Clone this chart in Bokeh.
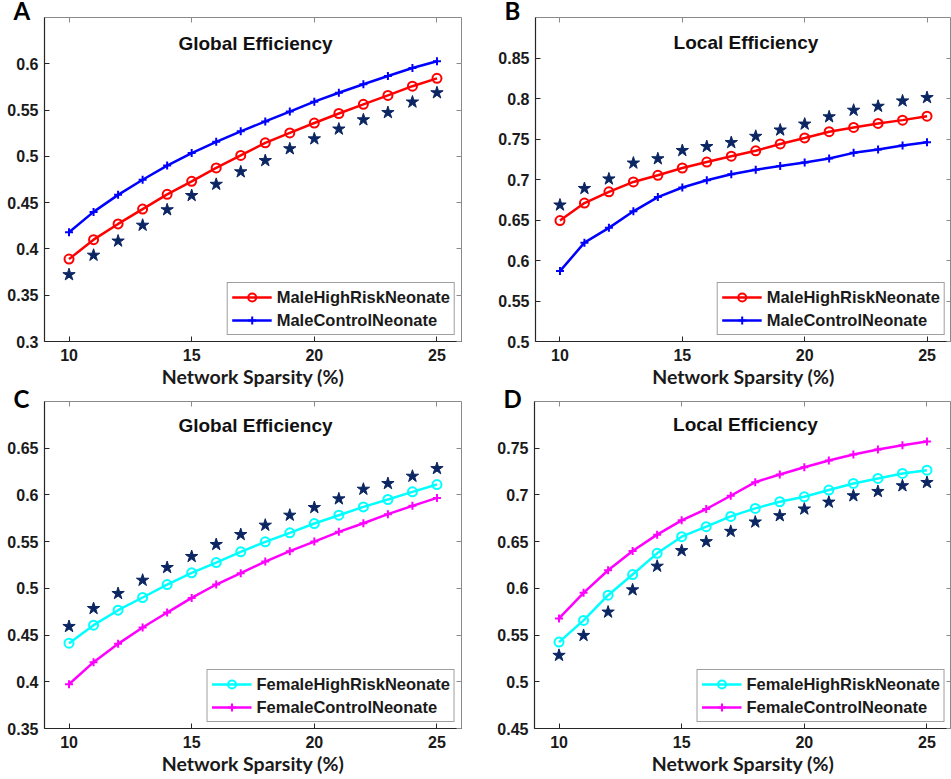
from bokeh.plotting import figure
from bokeh.layouts import column, row
from bokeh.models import Range1d, FixedTicker, LinearAxis, Label, Legend, Title
from bokeh.embed import file_html
from bokeh.resources import INLINE

sparsity = list(range(10, 26))
x_ticks = [10, 15, 20, 25]

# Panel A: Global Efficiency (male)
a_high = [0.389, 0.410, 0.427, 0.443, 0.459, 0.473, 0.4875, 0.501, 0.5146, 0.5253,
          0.536, 0.5463, 0.5562, 0.5658, 0.5758, 0.5843]
a_ctrl = [0.418, 0.440, 0.4584, 0.4747, 0.490, 0.5036, 0.5157, 0.527, 0.5377, 0.5484,
          0.5591, 0.5687, 0.5779, 0.5868, 0.5954, 0.6028]
a_star = [0.3722, 0.3932, 0.4085, 0.4256, 0.4423, 0.4577, 0.4698, 0.4833, 0.4954, 0.5082,
          0.5189, 0.5295, 0.5395, 0.5473, 0.5587, 0.5687]
a_yticks = [0.3, 0.35, 0.4, 0.45, 0.5, 0.55, 0.6]

# Panel B: Local Efficiency (male)
b_high = [0.6493, 0.6709, 0.6848, 0.697, 0.7052, 0.7142, 0.7215, 0.7288, 0.7354, 0.7439,
          0.7513, 0.759, 0.7643, 0.7692, 0.7733, 0.7782]
b_ctrl = [0.5869, 0.622, 0.6403, 0.6607, 0.6783, 0.6901, 0.6991, 0.7064, 0.7121, 0.7166,
          0.7211, 0.726, 0.7329, 0.737, 0.7419, 0.746]
b_star = [0.6685, 0.6889, 0.7007, 0.7203, 0.7256, 0.7358, 0.7407, 0.7456, 0.7533, 0.7611,
          0.7684, 0.7774, 0.7855, 0.7904, 0.797, 0.8011]
b_yticks = [0.5, 0.55, 0.6, 0.65, 0.7, 0.75, 0.8, 0.85]

# Panel C: Global Efficiency (female)
c_high = [0.4413, 0.4606, 0.4766, 0.4902, 0.5041, 0.5166, 0.5276, 0.5391, 0.5498, 0.5594,
          0.5694, 0.5783, 0.5872, 0.5951, 0.6033, 0.6111]
c_ctrl = [0.3974, 0.421, 0.4406, 0.4581, 0.4741, 0.4898, 0.5041, 0.5162, 0.5287, 0.5398,
          0.5501, 0.5605, 0.5697, 0.5794, 0.5883, 0.5968]
c_star = [0.4592, 0.4784, 0.4945, 0.5087, 0.5223, 0.5341, 0.5469, 0.5576, 0.5676, 0.5783,
          0.5865, 0.5958, 0.6061, 0.6122, 0.620, 0.6282]
c_yticks = [0.35, 0.4, 0.45, 0.5, 0.55, 0.6, 0.65]

# Panel D: Local Efficiency (female)
d_high = [0.5425, 0.5657, 0.5927, 0.6148, 0.6375, 0.6553, 0.666, 0.677, 0.6856, 0.6927,
          0.698, 0.7052, 0.7123, 0.7176, 0.723, 0.7265]
d_ctrl = [0.5678, 0.5952, 0.6194, 0.640, 0.6575, 0.6728, 0.6849, 0.6991, 0.7137, 0.7219,
          0.7297, 0.7368, 0.7432, 0.7486, 0.7532, 0.7571]
d_star = [0.5283, 0.5496, 0.5746, 0.5984, 0.6237, 0.6404, 0.650, 0.661, 0.671, 0.6778,
          0.6849, 0.6923, 0.6991, 0.7037, 0.7098, 0.7133]
d_yticks = [0.45, 0.5, 0.55, 0.6, 0.65, 0.7, 0.75]

STAR = "#0b2662"
TICK_FONT = "Liberation Sans"
LABEL_FONT = "Lato"


def fmt(v):
    s = ("%.2f" % v).rstrip("0").rstrip(".")
    return s


def make_panel(letter, title, yrange, yticks, high, ctrl, star, high_color, ctrl_color,
               high_label, ctrl_label, width, height, borders, title_dy, letter_standoff):
    p = figure(width=width, height=height, output_backend="svg", toolbar_location=None,
               x_range=Range1d(9, 26), y_range=Range1d(*yrange),
               min_border_left=borders[0], min_border_right=borders[1],
               min_border_top=borders[2], min_border_bottom=borders[3])
    p.title = Title(text=letter, align="left", offset=-31, standoff=letter_standoff,
                    text_font=LABEL_FONT, text_font_style="bold", text_font_size="24px",
                    text_color="black")
    p.xgrid.visible = False
    p.ygrid.visible = False
    p.outline_line_color = "#8a8a8a"
    p.outline_line_width = 1
    p.background_fill_color = "white"
    p.border_fill_color = "white"

    for ax in (p.xaxis[0], p.yaxis[0]):
        ax.axis_line_color = "#262626"
        ax.axis_line_width = 1.2
        ax.major_tick_line_color = "#262626"
        ax.major_tick_in = 5
        ax.major_tick_out = 0
        ax.minor_tick_line_color = None
        ax.major_label_text_font = TICK_FONT
        ax.major_label_text_font_style = "bold"
        ax.major_label_text_font_size = "16px"
        ax.major_label_text_color = "#1a1a1a"
    p.xaxis.ticker = FixedTicker(ticks=x_ticks)
    p.yaxis.ticker = FixedTicker(ticks=yticks)
    p.yaxis.major_label_overrides = {v: fmt(v) for v in yticks}
    p.xaxis.major_label_standoff = 7
    p.yaxis.major_label_standoff = 6
    p.xaxis.axis_label = "Network Sparsity (%)"
    p.xaxis.axis_label_text_font = LABEL_FONT
    p.xaxis.axis_label_text_font_style = "bold"
    p.xaxis.axis_label_text_font_size = "19.5px"
    p.xaxis.axis_label_text_color = "#1a1a1a"
    p.xaxis.axis_label_standoff = 1

    top = LinearAxis(ticker=FixedTicker(ticks=x_ticks), axis_line_color=None,
                     major_tick_in=5, major_tick_out=0, major_tick_line_color="#8a8a8a",
                     minor_tick_line_color=None, major_label_text_font_size="1px",
                     major_label_text_color=None, major_label_standoff=0)
    right = LinearAxis(ticker=FixedTicker(ticks=yticks), axis_line_color=None,
                       major_tick_in=5, major_tick_out=0, major_tick_line_color="#8a8a8a",
                       minor_tick_line_color=None, major_label_text_font_size="1px",
                       major_label_text_color=None, major_label_standoff=0)
    p.add_layout(top, "above")
    p.add_layout(right, "right")

    p.scatter(sparsity, star, marker="star", size=13, fill_color=STAR, line_color=STAR)

    r1 = p.line(sparsity, high, line_color=high_color, line_width=2.5)
    r1m = p.scatter(sparsity, high, marker="circle", size=9, fill_color=None,
                    line_color=high_color, line_width=2)
    r2 = p.line(sparsity, ctrl, line_color=ctrl_color, line_width=2.5)
    r2m = p.scatter(sparsity, ctrl, marker="cross", size=8, line_color=ctrl_color,
                    line_width=2)

    legend = Legend(items=[(high_label, [r1, r1m]), (ctrl_label, [r2, r2m])],
                    location="bottom_right", margin=6, padding=4, spacing=3,
                    glyph_width=40, glyph_height=20, label_height=20,
                    label_standoff=5, border_line_color="#404040", border_line_width=1,
                    background_fill_color="white", background_fill_alpha=1,
                    label_text_font=TICK_FONT, label_text_font_style="bold",
                    label_text_font_size="16.5px", label_text_color="#1a1a1a")
    p.add_layout(legend, "center")

    p.add_layout(Label(x=17.6, y=yrange[1], y_offset=-title_dy, text=title,
                       text_align="center", text_baseline="alphabetic",
                       text_font=TICK_FONT, text_font_style="bold",
                       text_font_size="19px", text_color="#111111"))
    return p


pA = make_panel("A", "Global Efficiency", (0.3, 0.65), a_yticks, a_high, a_ctrl, a_star,
                "#ff0000", "#0000ff", "MaleHighRiskNeonate", "MaleControlNeonate",
                475, 390, (44, 14, 16, 46), 26, -14)
pB = make_panel("B", "Local Efficiency", (0.5, 0.9), b_yticks, b_high, b_ctrl, b_star,
                "#ff0000", "#0000ff", "MaleHighRiskNeonate", "MaleControlNeonate",
                476, 390, (60, 0, 16, 46), 25, -14)
pC = make_panel("C", "Global Efficiency", (0.35, 0.7), c_yticks, c_high, c_ctrl, c_star,
                "#00ffff", "#ff00ff", "FemaleHighRiskNeonate", "FemaleControlNeonate",
                475, 389, (44, 14, 10, 51), 24, -23)
pD = make_panel("D", "Local Efficiency", (0.45, 0.8), d_yticks, d_high, d_ctrl, d_star,
                "#00ffff", "#ff00ff", "FemaleHighRiskNeonate", "FemaleControlNeonate",
                476, 389, (59, 0, 11, 50), 23, -23)

layout = column(row(pA, pB), row(pC, pD))
open("out.html", "w").write(file_html(layout, INLINE))
